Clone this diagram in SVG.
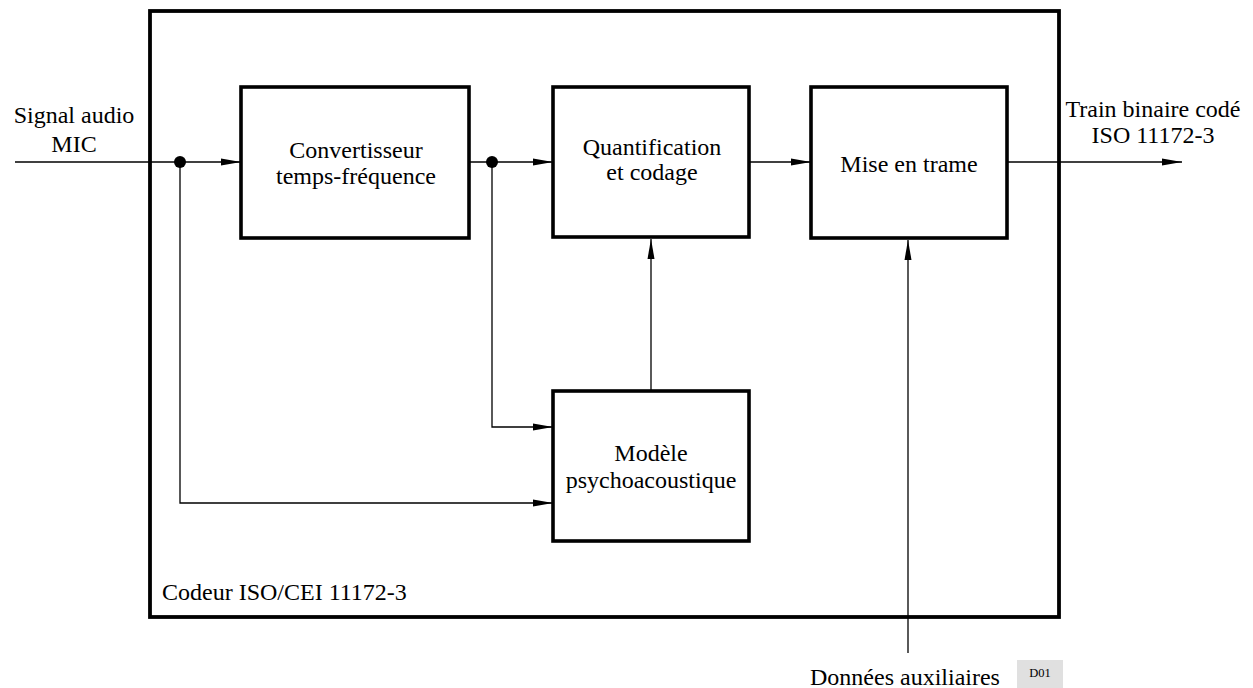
<svg xmlns="http://www.w3.org/2000/svg" width="1253" height="688" viewBox="0 0 1253 688">
<style>
.box{fill:#fff;stroke:#000;stroke-width:3.6}
.frame{fill:none;stroke:#000;stroke-width:3.8}
.ln{fill:none;stroke:#000;stroke-width:1.3}
.t{font-family:"Liberation Serif","Times New Roman",serif;font-size:24px;fill:#000;text-anchor:middle}
.e{font-family:"Liberation Serif","Times New Roman",serif;font-size:24px;fill:#000}
.m{text-anchor:middle}
</style>
<defs>
<marker id="ah" viewBox="0 0 20 8" refX="20" refY="4" markerWidth="20" markerHeight="8" markerUnits="userSpaceOnUse" orient="auto">
<path d="M0,0.5 L20,4 L0,7.5 Z" fill="#000"/>
</marker>
</defs>
<rect width="1253" height="688" fill="#fff"/>
<g id="codeur">
<rect class="frame" x="150" y="11" width="909" height="606"/>
<text class="e" x="162" y="600">Codeur ISO/CEI 11172-3</text>
</g>
<g id="connectors">
<path class="ln" d="M15,162 H241" marker-end="url(#ah)"/>
<path class="ln" d="M180,162 V503 H553" marker-end="url(#ah)"/>
<path class="ln" d="M469,162 H553" marker-end="url(#ah)"/>
<path class="ln" d="M492,162 V427 H553" marker-end="url(#ah)"/>
<path class="ln" d="M749,162 H811" marker-end="url(#ah)"/>
<path class="ln" d="M1007,162 H1182" marker-end="url(#ah)"/>
<path class="ln" d="M651,391 V239" marker-end="url(#ah)"/>
<path class="ln" d="M908,653 V240" marker-end="url(#ah)"/>
<circle cx="180" cy="162" r="6" fill="#000"/>
<circle cx="492" cy="162" r="6" fill="#000"/>
</g>
<g id="convertisseur">
<rect class="box" x="241" y="87" width="228" height="151"/>
<text class="t" x="356" y="158">Convertisseur</text>
<text class="t" x="356" y="184">temps-fréquence</text>
</g>
<g id="quantification">
<rect class="box" x="553" y="87" width="196" height="150"/>
<text class="t" x="652" y="155">Quantification</text>
<text class="t" x="652" y="180">et codage</text>
</g>
<g id="trame">
<rect class="box" x="811" y="87" width="196" height="151"/>
<text class="t" x="909" y="172">Mise en trame</text>
</g>
<g id="modele">
<rect class="box" x="553" y="391" width="196" height="150"/>
<text class="t" x="651" y="461">Modèle</text>
<text class="t" x="651" y="488">psychoacoustique</text>
</g>
<g id="entree">
<text class="e m" x="74" y="123">Signal audio</text>
<text class="e m" x="74" y="152">MIC</text>
</g>
<g id="sortie">
<text class="e m" x="1153" y="117">Train binaire codé</text>
<text class="e m" x="1153" y="143">ISO 11172-3</text>
</g>
<g id="auxiliaires">
<text class="e" x="810" y="685">Données auxiliaires</text>
</g>
<g id="ref">
<rect x="1017" y="660" width="46" height="28" fill="#e0e0e0"/>
<text x="1040" y="677" font-family="Liberation Serif, serif" font-size="12.5" text-anchor="middle" fill="#000">D01</text>
</g>
</svg>
